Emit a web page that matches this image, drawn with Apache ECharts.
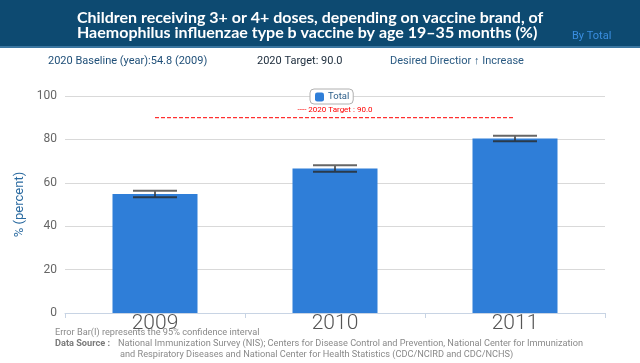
<!DOCTYPE html>
<html>
<head>
<meta charset="utf-8">
<script src="https://cdn.jsdelivr.net/npm/echarts@6/dist/echarts.min.js"></script>
<style>html,body{margin:0;padding:0;background:#fff}#c{width:640px;height:363px}</style>
</head>
<body>
<div id="c"></div>
<script>
const categories = ['2009', '2010', '2011'];
const totalValues = [54.8, 66.6, 80.4];
const ciLow = [53.3, 65.1, 79.1];
const ciHigh = [56.3, 68.1, 81.7];
const targetValue = 90.0;
const yTicks = [0, 20, 40, 60, 80, 100];

const chart = echarts.init(document.getElementById('c'));
const errData = categories.map((c, i) => [i, ciLow[i], ciHigh[i]]);
const targetData = categories.map((c, i) => i === 1
  ? { value: targetValue, label: { show: true, position: 'top', distance: 3, formatter: '---- 2020 Target : 90.0', color: '#ff0000', fontSize: 8, fontFamily: 'Roboto' } }
  : targetValue);

chart.setOption({
  animation: false,
  title: [
    {
      text: 'Children receiving 3+ or 4+ doses, depending on vaccine brand, of\nHaemophilus influenzae type b vaccine by age 19\u201335 months (%)',
      left: 72, top: 5,
      textStyle: { color: '#ffffff', fontFamily: 'Lato', fontWeight: 'bold', fontSize: 16, lineHeight: 15 }
    },
    {
      text: 'By Total', left: 567, top: 26,
      textStyle: { color: '#3a8ee0', fontFamily: 'Roboto', fontWeight: 'normal', fontSize: 11 }
    }
  ],
  graphic: [
    { type: 'rect', z: -1, shape: { x: 0, y: 0, width: 640, height: 46 }, style: { fill: '#0d4a71' } },
    { type: 'rect', z: -1, shape: { x: 0, y: 46, width: 640, height: 2 }, style: { fill: '#3b76a0' } },
    { type: 'text', x: 48, y: 56, style: { text: '2020 Baseline (year):54.8 (2009)', fill: '#1f4f78', font: '11px Roboto' } },
    { type: 'text', x: 257, y: 56, style: { text: '2020 Target: 90.0', fill: '#1a2a3a', font: '11px Roboto' } },
    { type: 'text', x: 390, y: 56, style: { text: 'Desired Directior \u2191 Increase', fill: '#2a5a82', font: '11px Roboto' } },
    { type: 'rect', shape: { x: 328, y: 99.5, width: 22, height: 1 }, style: { fill: '#2d5f8a' } },
    { type: 'text', x: 55, y: 328, style: { text: 'Error Bar(I) represents the 95% confidence interval', fill: '#8a8a8a', font: '9.2px Roboto' } },
    { type: 'text', x: 55, y: 339, style: { text: 'Data Source :', fill: '#7a7a7a', font: 'bold 9.2px Roboto' } },
    { type: 'text', x: 118, y: 339, style: { text: 'National Immunization Survey (NIS); Centers for Disease Control and Prevention, National Center for Immunization', fill: '#8a8a8a', font: '9.2px Roboto' } },
    { type: 'text', x: 120, y: 350, style: { text: 'and Respiratory Diseases and National Center for Health Statistics (CDC/NCIRD and CDC/NCHS)', fill: '#8a8a8a', font: '9.2px Roboto' } }
  ],
  legend: {
    data: ['Total'], left: 310, top: 89,
    itemWidth: 9, itemHeight: 9, itemGap: 4,
    padding: [3, 4, 2, 5],
    borderColor: '#b0b0b0', borderWidth: 1, borderRadius: 4,
    backgroundColor: '#ffffff',
    textStyle: { color: '#2d5f8a', fontSize: 9.5, fontFamily: 'Roboto', padding: [0, 0, 0, -1] }
  },
  grid: { left: 65, right: 35, top: 96, bottom: 50 },
  xAxis: {
    type: 'category', data: categories,
    axisLine: { lineStyle: { color: '#c8d4e4' } },
    axisTick: { show: true, length: 5, lineStyle: { color: '#c8d4e4' } },
    axisLabel: { color: '#555555', fontSize: 21, fontFamily: 'Roboto', fontWeight: 300, margin: 0 }
  },
  yAxis: {
    type: 'value', min: 0, max: 100, interval: 20,
    name: '% (percent)', nameLocation: 'middle', nameGap: 32,
    nameTextStyle: { color: '#2a6aa0', fontSize: 13, fontFamily: 'Roboto' },
    axisLine: { show: false }, axisTick: { show: false },
    axisLabel: { color: '#666666', fontSize: 12, fontFamily: 'Roboto', margin: 8,
      formatter: v => yTicks.includes(v) ? String(v) : '' },
    splitLine: { lineStyle: { color: '#d9d9d9' } }
  },
  series: [
    {
      name: 'Total', type: 'bar', data: totalValues, barWidth: 85,
      itemStyle: { color: '#2f7ed8' }
    },
    {
      name: 'Target', type: 'line', data: targetData, symbol: 'circle', symbolSize: 1, showSymbol: true, silent: true, z: 4,
      itemStyle: { color: 'rgba(255,0,0,0)' },
      lineStyle: { color: '#ff0000', type: 'dashed', dashOffset: 0, width: 1, opacity: 1 }
    },
    {
      name: 'CI', type: 'custom', data: errData, z: 5,
      encode: { x: 0, y: [1, 2] },
      renderItem: function (params, api) {
        const x = api.value(0);
        const lo = api.coord([x, api.value(1)]);
        const hi = api.coord([x, api.value(2)]);
        const hw = 22;
        return {
          type: 'group', children: [
            { type: 'line', shape: { x1: hi[0], y1: hi[1], x2: lo[0], y2: lo[1] }, style: { stroke: '#333', lineWidth: 1.5 } },
            { type: 'line', shape: { x1: hi[0] - hw, y1: hi[1], x2: hi[0] + hw, y2: hi[1] }, style: { stroke: '#666', lineWidth: 2 } },
            { type: 'line', shape: { x1: lo[0] - hw, y1: lo[1], x2: lo[0] + hw, y2: lo[1] }, style: { stroke: '#2a3a4a', lineWidth: 2 } }
          ]
        };
      }
    }
  ]
});
</script>
</body>
</html>
